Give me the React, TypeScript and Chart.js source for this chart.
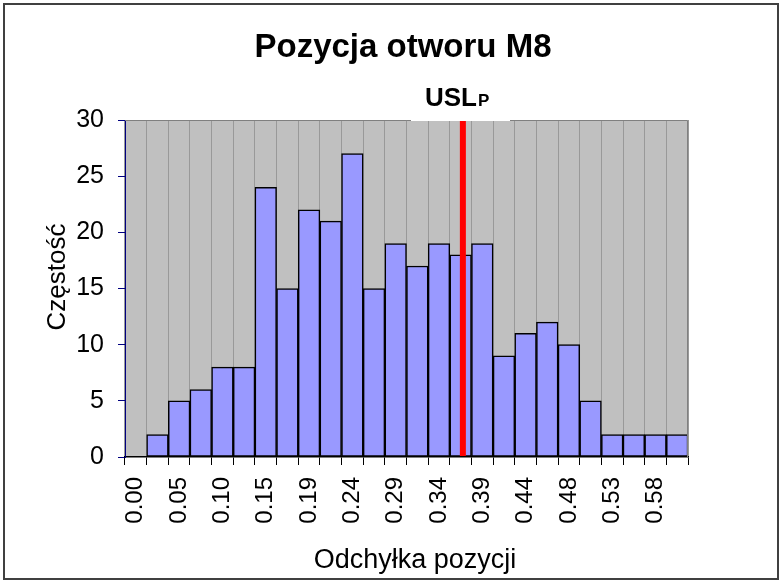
import React, { useEffect, useRef } from 'react';
import { Chart, registerables } from 'chart.js';

Chart.register(...registerables);

// ---- data ----
const binValues = [
  0.0, 0.0242, 0.0483, 0.0725, 0.0967, 0.1208, 0.1451, 0.1692, 0.1933, 0.2175,
  0.2417, 0.2658, 0.29, 0.3142, 0.3383, 0.3625, 0.3867, 0.4108, 0.4351, 0.4592,
  0.4833, 0.5075, 0.5317, 0.5558, 0.58, 0.6042,
];
const frequencies = [
  0, 2, 5, 6, 8, 8, 24, 15, 22, 21, 27, 15, 19, 17, 19, 18, 19, 9, 11, 12, 10, 5, 2, 2, 2, 2,
];
const yTickValues = [0, 5, 10, 15, 20, 25, 30];
const uslValue = 0.365;
const uslMain = 'USL';
const uslSub = 'P';
const chartTitle = 'Pozycja otworu M8';
const xTitle = 'Odchyłka pozycji';
const yTitle = 'Częstość';

const FONT = '"Liberation Sans", Arial, sans-serif';

const binLabels = binValues.map((v) => v.toFixed(2));

function fractionalIndex(v: number): number {
  for (let i = 0; i < binValues.length - 1; i++) {
    if (v >= binValues[i] && v < binValues[i + 1]) {
      return i + (v - binValues[i]) / (binValues[i + 1] - binValues[i]);
    }
  }
  return binValues.length - 1;
}

const decorPlugin = {
  id: 'decor',
  beforeDraw(chart: any) {
    const { ctx, chartArea: a } = chart;
    ctx.save();
    ctx.fillStyle = '#ffffff';
    ctx.fillRect(0, 0, chart.width, chart.height);
    ctx.fillStyle = '#C0C0C0';
    ctx.fillRect(a.left, a.top, a.right - a.left, a.bottom - a.top);
    ctx.restore();
  },
  afterDatasetsDraw(chart: any) {
    const { ctx, chartArea: a } = chart;
    const px = chart.scales.x.getPixelForValue(fractionalIndex(uslValue));
    ctx.save();
    ctx.strokeStyle = '#FF0000';
    ctx.lineWidth = 6;
    ctx.beginPath();
    ctx.moveTo(px, a.top);
    ctx.lineTo(px, a.bottom - 1);
    ctx.stroke();
    ctx.restore();
  },
  afterDraw(chart: any) {
    const { ctx, chartArea: a } = chart;
    ctx.save();
    // plot top/right border
    ctx.strokeStyle = '#808080';
    ctx.lineWidth = 1;
    ctx.beginPath();
    ctx.moveTo(a.left, a.top + 0.5);
    ctx.lineTo(a.right - 0.5, a.top + 0.5);
    ctx.lineTo(a.right - 0.5, a.bottom);
    ctx.stroke();

    // USL label with white box
    ctx.fillStyle = '#ffffff';
    ctx.fillRect(411, 90, 99, a.top + 1 - 90);
    ctx.fillStyle = '#000000';
    ctx.textBaseline = 'alphabetic';
    ctx.textAlign = 'left';
    ctx.font = `bold 26px ${FONT}`;
    ctx.fillText(uslMain, 425, 106);
    const w = ctx.measureText(uslMain).width;
    ctx.font = `bold 17px ${FONT}`;
    ctx.fillText(uslSub, 425 + w + 1, 106);

    // title
    ctx.font = `bold 33px ${FONT}`;
    ctx.textAlign = 'center';
    ctx.fillText(chartTitle, 403, 57);

    // x title
    ctx.font = `27px ${FONT}`;
    ctx.fillText(xTitle, 415, 568);

    // y title
    ctx.save();
    ctx.translate(65, 277);
    ctx.rotate(-Math.PI / 2);
    ctx.font = `26px ${FONT}`;
    ctx.textAlign = 'center';
    ctx.fillText(yTitle, 0, 0);
    ctx.restore();

    // outer border
    ctx.strokeStyle = '#404040';
    ctx.lineWidth = 2;
    ctx.strokeRect(4, 4, 774, 575);
    ctx.restore();
  },
};

export default function App() {
  const canvasRef = useRef<HTMLCanvasElement | null>(null);

  useEffect(() => {
    const canvas = canvasRef.current;
    if (!canvas) return;
    const chart = new Chart(canvas, {
      type: 'bar',
      data: {
        labels: binLabels,
        datasets: [
          {
            data: frequencies,
            backgroundColor: '#9999FF',
            borderColor: '#000000',
            borderWidth: 1.5,
            borderSkipped: false,
            barPercentage: 1,
            categoryPercentage: 1,
          },
        ],
      },
      options: {
        responsive: false,
        animation: false,
        devicePixelRatio: 1,
        layout: { padding: { left: 0, top: 120, right: 96, bottom: 28 } },
        plugins: {
          legend: { display: false },
          tooltip: { enabled: false },
          title: { display: false },
        },
        scales: {
          x: {
            type: 'category',
            offset: true,
            grid: {
              offset: true,
              color: '#999999',
              lineWidth: 1,
              tickColor: '#000000',
              tickLength: 8,
              drawOnChartArea: true,
            },
            border: { color: '#000000', width: 1.5 },
            ticks: {
              autoSkip: false,
              maxRotation: 90,
              minRotation: 90,
              padding: 12,
              color: '#000000',
              font: { family: FONT, size: 24 },
              callback: (_v: any, i: number) => (i % 2 === 0 ? binLabels[i] : ''),
            },
            afterFit: (s: any) => {
              s.height = 100;
            },
          },
          y: {
            min: 0,
            max: 30,
            afterBuildTicks: (s: any) => {
              s.ticks = yTickValues.map((v) => ({ value: v }));
            },
            grid: {
              drawOnChartArea: false,
              color: '#000080',
              tickColor: '#000080',
              tickLength: 7,
            },
            border: { color: '#000080', width: 1 },
            ticks: {
              padding: 14,
              color: '#000000',
              font: { family: FONT, size: 25 },
            },
            afterFit: (s: any) => {
              s.width = 125;
            },
          },
        },
      },
      plugins: [decorPlugin],
    } as any);
    return () => chart.destroy();
  }, []);

  return (
    <div style={{ position: 'fixed', left: 0, top: 0, width: 784, height: 585 }}>
      <canvas ref={canvasRef} width={784} height={585} style={{ display: 'block' }} />
    </div>
  );
}
